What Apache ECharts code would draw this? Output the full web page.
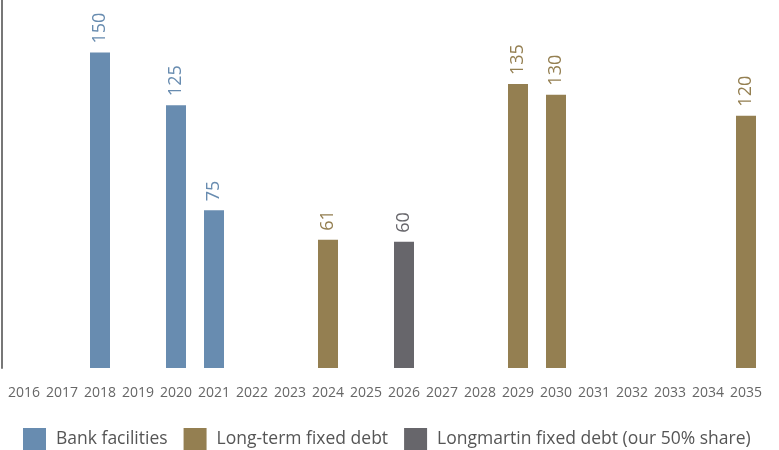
<!DOCTYPE html>
<html>
<head>
<meta charset="utf-8">
<script src="https://cdn.jsdelivr.net/npm/echarts@6/dist/echarts.min.js"></script>
<style>
  html, body { margin: 0; padding: 0; background: #fff; }
  #chart { width: 779px; height: 450px; }
</style>
</head>
<body>
<div id="chart"></div>
<script>
  const years = ["2016", "2017", "2018", "2019", "2020", "2021", "2022", "2023", "2024", "2025",
    "2026", "2027", "2028", "2029", "2030", "2031", "2032", "2033", "2034", "2035"]
  const bankFacilities = ["-", "-", 150, "-", 125, 75, "-", "-", "-", "-",
    "-", "-", "-", "-", "-", "-", "-", "-", "-", "-"]
  const longTermDebt = ["-", "-", "-", "-", "-", "-", "-", "-", 61, "-",
    "-", "-", "-", 135, 130, "-", "-", "-", "-", 120]
  const longmartinDebt = ["-", "-", "-", "-", "-", "-", "-", "-", "-", "-",
    60, "-", "-", "-", "-", "-", "-", "-", "-", "-"]

  const blue = "#688cb0"
  const gold = "#947f51"
  const grey = "#67666b"
  const font = "'Open Sans', sans-serif"

  function mkSeries(name, data, color) {
    return {
      name: name,
      type: "bar",
      stack: "debt",
      barWidth: 20,
      data: data,
      itemStyle: { color: color },
      label: {
        show: true,
        position: "top",
        rotate: 90,
        align: "left",
        verticalAlign: "middle",
        distance: 9,
        color: color,
        fontSize: 18,
        fontFamily: font,
      },
    }
  }

  const chart = echarts.init(document.getElementById("chart"))
  chart.setOption({
    animation: false,
    grid: { left: 5, right: 14, top: 0, bottom: 82 },
    legend: {
      top: 423,
      left: 18,
      itemWidth: 23,
      itemHeight: 22,
      itemGap: 16,
      icon: "rect",
      textStyle: { color: "#555", fontSize: 17.5, fontFamily: font, padding: [0, 0, 0, 5] },
    },
    xAxis: {
      type: "category",
      data: years,
      axisLine: { show: false },
      axisTick: { show: false },
      axisLabel: { color: "#666", fontSize: 14, margin: 18, interval: 0, fontFamily: font },
    },
    yAxis: {
      type: "value",
      min: 0,
      max: 175,
      offset: 3,
      axisLine: { show: true, lineStyle: { color: "#777", width: 2 } },
      axisLabel: { show: false },
      splitLine: { show: false },
      axisTick: { show: false },
    },
    series: [
      mkSeries("Bank facilities", bankFacilities, blue),
      mkSeries("Long-term fixed debt", longTermDebt, gold),
      mkSeries("Longmartin fixed debt (our 50% share)", longmartinDebt, grey),
    ],
  })
</script>
</body>
</html>
